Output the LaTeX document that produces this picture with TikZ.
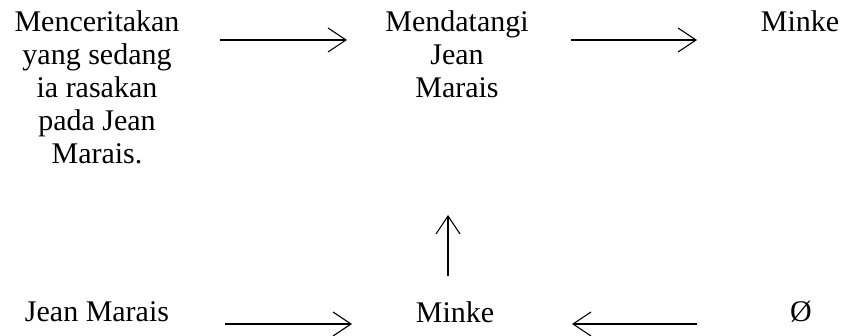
\documentclass[tikz,border=0pt]{standalone}
\usepackage{fontspec}
\setmainfont{Liberation Serif}
\usetikzlibrary{arrows.meta}

\begin{document}
\begin{tikzpicture}[x=1pt,y=-1pt,
  teks/.style={anchor=north,align=center,inner sep=0pt,
    font=\fontsize{30}{33}\selectfont},
  panah/.style={line width=1.1pt,-{Straight Barb[length=18pt,width=24pt]}}]
  \useasboundingbox (0,0) rectangle (845,336);

  \node[teks] (cerita) at (97,10)
    {Menceritakan\\yang sedang\\ia rasakan\\pada Jean\\Marais.};
  \node[teks] (datang) at (457,10) {Mendatangi\\Jean\\Marais};
  \node[teks] (minkeA) at (800,10) {Minke};
  \node[teks] (jean) at (97,301) {Jean Marais};
  \node[teks] (minkeB) at (455,301) {Minke};
  \node[teks] (kosong) at (801,301) {Ø};

  \coordinate (a1) at (220,40);
  \coordinate (a2) at (347,40);
  \coordinate (b1) at (571,40);
  \coordinate (b2) at (697,40);
  \coordinate (c1) at (448,276);
  \coordinate (c2) at (448,215);
  \coordinate (d1) at (225,324);
  \coordinate (d2) at (352,324);
  \coordinate (e1) at (697,324);
  \coordinate (e2) at (572,324);

  \draw[panah] (a1)--(a2);
  \draw[panah] (b1)--(b2);
  \draw[panah] (c1)--(c2);
  \draw[panah] (d1)--(d2);
  \draw[panah] (e1)--(e2);
\end{tikzpicture}
\end{document}
